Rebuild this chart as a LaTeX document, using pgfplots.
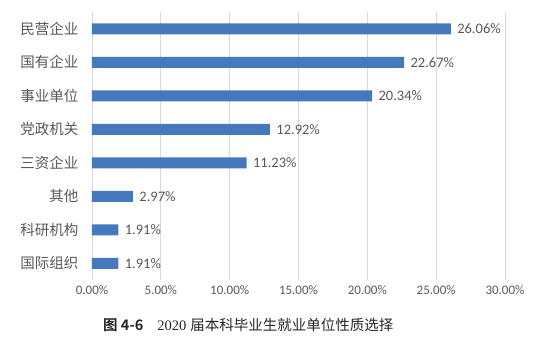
\documentclass[border=0pt]{standalone}
\usepackage{pgfplots}
\pgfplotsset{compat=1.18}
\usepackage{fontspec}
\setmainfont{Carlito}
\newfontfamily\cjk{Noto Sans CJK SC}
\newfontfamily\cjkb{Noto Sans CJK SC}[BoldFont=* Bold]
\newfontfamily\tnr{Liberation Serif}
\definecolor{barblue}{RGB}{70,120,190}
\definecolor{txtgray}{RGB}{89,89,89}
\definecolor{gridgray}{RGB}{217,217,217}
\begin{document}
\begin{tikzpicture}
\path[use as bounding box] (-92pt,-71pt) rectangle (457pt,280pt);
\begin{axis}[
  at={(0,0)}, anchor=south west,
  scale only axis,
  width=413pt, height=268pt,
  xmin=0, xmax=30, ymin=-0.5, ymax=7.5,
  xbar, bar width=11pt,
  axis line style={draw=none},
  xmajorgrids, grid style={gridgray, line width=0.8pt},
  xtick={0,5,...,30},
  xticklabel={\pgfmathprintnumber[fixed,fixed zerofill,precision=2]{\tick}\%},
  /pgf/number format/assume math mode=true,
  xticklabel style={font=\fontsize{13}{15}\selectfont, text=txtgray, yshift=-2pt},
  ytick={0,...,7},
  yticklabels={国际组织,科研机构,其他,三资企业,党政机关,事业单位,国有企业,民营企业},
  yticklabel style={font=\cjk\fontsize{14.5}{16}\selectfont, text=txtgray, xshift=-10pt},
  major tick length=0pt,
  nodes near coords={\pgfmathprintnumber[fixed,fixed zerofill,precision=2]{\pgfplotspointmeta}\%},
  nodes near coords style={font=\fontsize{14.5}{16}\selectfont, text=txtgray, anchor=west, xshift=3pt},
  point meta=x,
  clip=false,
]
\addplot[fill=barblue, draw=none] coordinates {
 (1.91,0) (1.91,1) (2.97,2) (11.23,3) (12.92,4) (20.34,5) (22.67,6) (26.06,7)};
\end{axis}
\node[font=\fontsize{14.5}{17}\selectfont, text=black!85, anchor=west, inner sep=0pt] at (11pt,-45pt)
  {\cjkb\bfseries 图 4-6\hspace{14pt}{\tnr\mdseries 2020}\hspace{4pt}\mdseries 届本科毕业生就业单位性质选择};
\end{tikzpicture}
\end{document}
